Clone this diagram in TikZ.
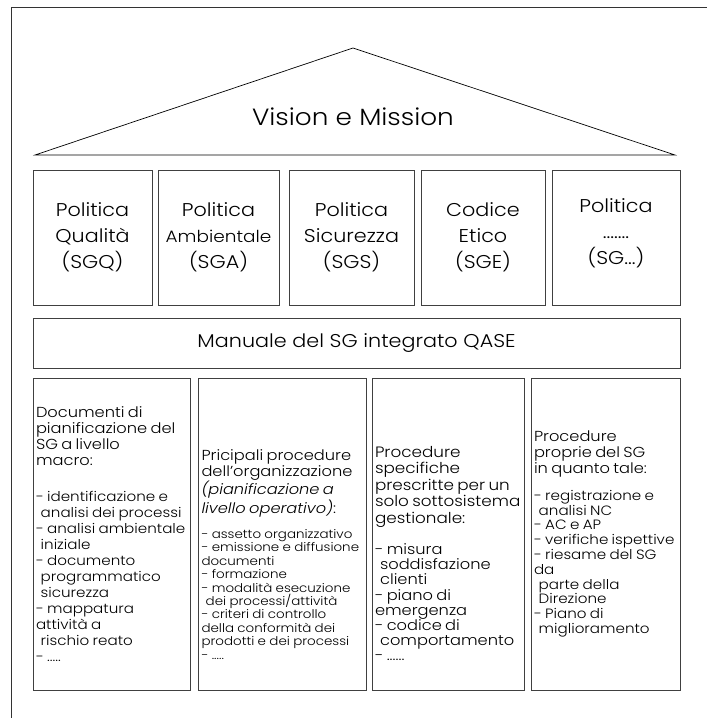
\documentclass[tikz,border=0pt]{standalone}
\usepackage{fontspec}
\setmainfont{Poppins}[UprightFont=* Light, ItalicFont=* Light Italic, FakeStretch=1.12]
\usetikzlibrary{positioning}
\tikzstyle{roof} = [draw=black, line width=0.7pt, line join=miter]
\tikzstyle{policy} = [rectangle, draw=black!75, line width=0.8pt, minimum height=135pt, align=center, inner sep=0pt, font=\fontsize{18.5}{26}\selectfont]
\tikzstyle{manual} = [rectangle, draw=black!75, line width=0.8pt, minimum width=647pt, minimum height=50pt, font=\fontsize{18.5}{24}\selectfont]
\tikzstyle{procbox} = [rectangle, draw=black!75, line width=0.8pt, minimum height=312pt, align=left, inner xsep=3pt, inner ysep=0pt]
\newcommand{\ind}{\hspace*{0.35em}}
\newcommand{\nowrap}{\rightskip=-25pt plus 1fil\noindent}
\newcommand{\pushdown}[1]{\par\vspace{-#1}\noindent\mbox{}}

\begin{document}
\begin{tikzpicture}[x=1pt, y=-1pt]
	\useasboundingbox (0,0) rectangle (707,718);
	% cornice
	\draw[line width=0.9pt, black!80] (707,7.5) -- (11.5,7.5) -- (11.5,718);
	
	% tetto
	\coordinate (roofL) at (35,155);
	\coordinate (roofT) at (353,48);
	\coordinate (roofR) at (675,155);
	\draw [roof] (roofL) -- (roofT) -- (roofR) -- cycle;
	\node (vision) at (353,117) [font=\fontsize{23.5}{30}\selectfont] {Vision e Mission};
	
	% politiche
	\node (polQ) [policy, minimum width=119pt] at (92.5,237.5) {Politica\\Qualità\\(SGQ)};
	\node (polA) [policy, minimum width=121pt] at (218.5,237.5) {Politica\\{\fontsize{16.5}{26}\selectfont Ambientale}\\(SGA)};
	\node (polS) [policy, minimum width=125pt] at (351.5,237.5) {Politica\\Sicurezza\\(SGS)};
	\node (polE) [policy, minimum width=124pt] at (483,237.5) {Codice\\Etico\\(SGE)};
	\node (polX) [policy, minimum width=128pt] at (616,237.5) {Politica\\.......\\(SG...)\\[-14pt]\mbox{}};
	
	\node (manual) [manual] at (356.5,343) {Manuale del SG integrato QASE};
	
	% procedure
	\node (doc) [procbox, text width=151pt] at (111.5,534) {%
		{\fontsize{14.5}{16.2}\selectfont\nowrap Documenti di\\pianificazione del\\SG a livello\\macro:\par}
		\vspace{20pt}
		{\fontsize{13.5}{16}\selectfont\nowrap - identificazione e\\\ind analisi dei processi\\- analisi ambientale\\\ind iniziale\\- documento\\\ind programmatico\\\ind sicurezza\\- mappatura\\attività a\\\ind rischio reato\\- .....\par}};
	\node (proc) [procbox, text width=162pt] at (282.5,534) {%
		{\fontsize{14.5}{15.7}\selectfont\nowrap Pricipali procedure\\dell’organizzazione\\\textit{(pianificazione a}\\\textit{livello operativo)}:\par}
		\vspace{12pt}
		{\fontsize{12}{13.4}\selectfont\nowrap - assetto organizzativo\\- emissione e diffusione\\documenti\\- formazione\\- modalità esecuzione\\\ind dei processi/attività\\- criteri di controllo\\della conformità dei\\prodotti e dei processi\\- .....\par}
		\pushdown{53pt}};
	\node (spec) [procbox, text width=146pt] at (448,534) {%
		{\fontsize{15}{16.5}\selectfont\nowrap Procedure\\specifiche\\prescritte per un\\solo sottosistema\\gestionale:\par}
		\vspace{16pt}
		{\fontsize{14.5}{15.2}\selectfont\nowrap - misura\\\ind soddisfazione\\\ind clienti\\- piano di\\emergenza\\- codice di\\\ind comportamento\\- ......\par}
		\pushdown{51pt}};
	\node (own) [procbox, text width=143pt] at (605.5,534) {%
		{\fontsize{14.5}{16}\selectfont\nowrap Procedure\\proprie del SG\\in quanto tale:\par}
		\vspace{12pt}
		{\fontsize{13.5}{14.8}\selectfont\nowrap - registrazione e\\\ind analisi NC\\- AC e AP\\- verifiche ispettive\\- riesame del SG\\da\\\ind parte della\\\ind Direzione\\- Piano di\\\ind miglioramento\par}};
\end{tikzpicture}
\end{document}
